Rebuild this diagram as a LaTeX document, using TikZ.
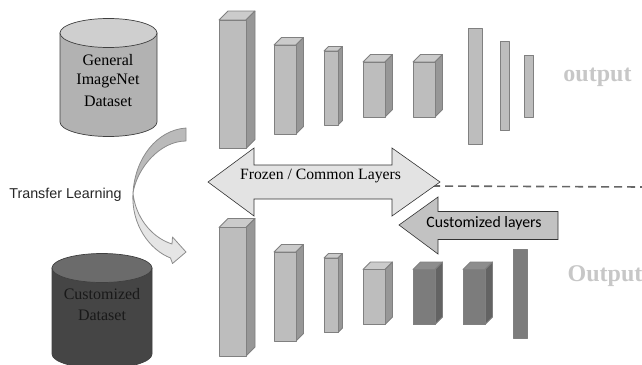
\documentclass[tikz,border=0pt]{standalone}
\usepackage{fontspec}
\setmainfont{Liberation Serif}
\setsansfont{Liberation Sans}
\newfontfamily\callfont{Carlito}
\usepackage{tikz}
\definecolor{lightfront}{HTML}{BDBDBD}
\definecolor{lighttop}{HTML}{CBCBCB}
\definecolor{lightside}{HTML}{979797}
\definecolor{darkfront}{HTML}{7C7C7C}
\definecolor{darktop}{HTML}{8D8D8D}
\definecolor{darkside}{HTML}{636363}
\tikzset{
  layeredge/.style={draw=black!50,line width=0.8pt,line join=round},
  dbedge/.style={draw=black!75,line width=0.7pt},
  dbtext/.style={font=\fontsize{16}{18}\selectfont},
  outtext/.style={font=\fontsize{24}{26}\selectfont\bfseries,text=black!22},
  bigarrow/.style={draw=black!80,line width=0.6pt,line join=miter},
  curvedarrow/.style={draw=black!45,line width=0.8pt,line join=round}
}
\newcommand\layerbox[6]{
  \draw[layeredge,fill=#6top] (#1,#2) -- ++(#5,-#5) -- ++(#3,0) -- ++(-#5,#5) -- cycle;
  \draw[layeredge,fill=#6side] (#1+#3,#2) -- ++(#5,-#5) -- ++(0,#4) -- ++(-#5,#5) -- cycle;
  \draw[layeredge,fill=#6front] (#1,#2) rectangle ++(#3,#4);
}
\newcommand\database[7]{
  \draw[dbedge,fill=#6] (#1-#2,#3) -- (#1-#2,#4)
    arc[start angle=180,end angle=360,x radius=#2pt,y radius=#5pt] -- (#1+#2,#3) -- cycle;
  \draw[dbedge,fill=#7] (#1,#3) ellipse[x radius=#2pt,y radius=#5pt];
}
\begin{document}
\begin{tikzpicture}[x=1pt,y=-1pt]
  \useasboundingbox (0,0) rectangle (642,364);

  % datasets
  \database{108.5}{48.5}{33}{122}{14.5}{black!30}{black!19}
  \database{102}{50}{268}{354}{14.5}{black!73}{black!58}
  \node[dbtext] (general) at (108,60) {General};
  \node[dbtext] (imagenet) at (108,81) {ImageNet};
  \node[dbtext] (generalset) at (108,101) {Dataset};
  \node[dbtext,text=black!90] (customized) at (102,294) {Customized};
  \node[dbtext,text=black!90] (customset) at (102,315) {Dataset};

  % upper row
  \foreach \xpos/\ypos/\wid/\hei/\dep in {219/20/27/128.5/9,274/45/22/89/7.5,324/51/14/74/4.5,363/62/22/55/7.5,413/62/22/55/7.5} {
    \layerbox{\xpos}{\ypos}{\wid}{\hei}{\dep}{light}
  }
  \foreach \xpos/\ypos/\wid/\hei in {468/28/14/116,500/41.5/9/89,524.5/55/9/62} {
    \draw[layeredge,fill=lightfront] (\xpos,\ypos) rectangle ++(\wid,\hei);
  }
  \node[outtext] (outputup) at (597.5,77) {output};

  % lower row
  \foreach \xpos/\ypos/\wid/\hei/\dep/\tone in {219/227.5/27/128.5/9/light,274/252/22/89/7.5/light,324/258/14/74.5/4.5/light,363/269.5/22/55/7.5/light,413/269.5/22/55/7.5/dark,463/269.5/22/55/7.5/dark} {
    \layerbox{\xpos}{\ypos}{\wid}{\hei}{\dep}{\tone}
  }
  \draw[layeredge,fill=darkfront] (513.5,249) rectangle ++(13.5,89);
  \node[outtext] (outputlow) at (605,276) {Output};

  % transfer arrow
  \draw[curvedarrow,fill=black!27] (186,128) .. controls (157,130) and (135,158) .. (133,193)
    .. controls (137,168) and (160,141) .. (186,141) -- cycle;
  \draw[curvedarrow,fill=black!10] (133,193) .. controls (135,215) and (150,237) .. (172,244)
    -- (172.5,237) -- (186,252) -- (172.5,263.5) -- (170.5,258)
    .. controls (150,250) and (131,225) .. (133,193) -- cycle;
  \node[font=\sffamily\fontsize{14.3}{16}\selectfont,text=black!85] (transfer) at (65.5,195) {Transfer Learning};

  % dashed line behind the arrows
  \coordinate (dashstart) at (432,186);
  \coordinate (dashend) at (642,187);
  \draw[black!60,line width=1.6pt,dash pattern=on 8pt off 5pt] (dashstart) -- (dashend);

  % frozen arrow
  \draw[bigarrow,fill=black!11] (208,182) -- (254,148) -- (254,165) -- (392,165) -- (392,148)
    -- (440,182) -- (392,216) -- (392,199) -- (254,199) -- (254,216) -- cycle;
  \node[font=\fontsize{15.7}{18}\selectfont] (frozen) at (320.5,176) {Frozen / Common Layers};

  % customized arrow
  \draw[bigarrow,fill=black!24] (399,225) -- (438,197) -- (438,211.5) -- (558,211.5) -- (558,239.5)
    -- (438,239.5) -- (438,254) -- cycle;
  \node[font=\callfont\fontsize{15.8}{18}\selectfont] (custom) at (484,223) {Customized layers};
\end{tikzpicture}
\end{document}
